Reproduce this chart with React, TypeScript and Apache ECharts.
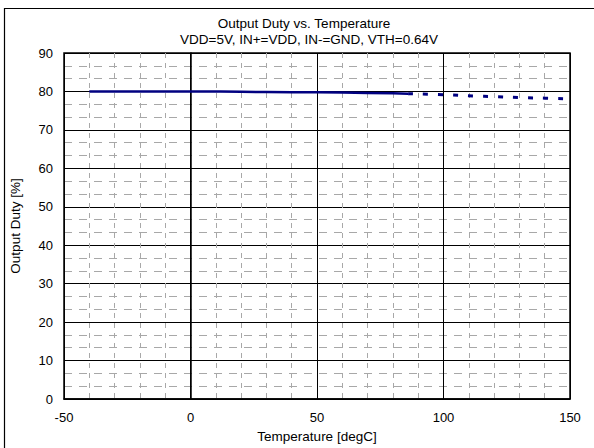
import React, { useEffect, useRef } from "react";
import * as echarts from "echarts";

const titleText = "Output Duty vs. Temperature";
const subtitleText = "VDD=5V, IN+=VDD, IN-=GND, VTH=0.64V";
const xName = "Temperature [degC]";
const yName = "Output Duty [%]";

const tempsSolid = [-40, -20, 0, 20, 40, 60, 80, 86];
const dutySolid = [80.0, 80.0, 80.0, 79.9, 79.8, 79.7, 79.5, 79.4];
const tempsDashed = [86, 100, 112, 120, 131, 140, 150];
const dutyDashed = [79.4, 79.15, 78.8, 78.65, 78.4, 78.25, 78.05];

const FONT = "'Liberation Sans', Arial, sans-serif";

export default function App() {
  const ref = useRef<HTMLDivElement>(null);
  useEffect(() => {
    document.body.style.margin = "0";
    const chart = echarts.init(ref.current!, null, { renderer: "svg" });
    const pair = (xs: number[], ys: number[]) => xs.map((x, i) => [x, ys[i]]);
    chart.setOption({
      animation: false,
      backgroundColor: "#fff",
      title: [
        {
          text: titleText,
          left: 299,
          top: 11,
          textAlign: "center",
          textStyle: { fontFamily: FONT, fontSize: 13.5, fontWeight: "normal", color: "#000" },
        },
        {
          text: subtitleText,
          left: 304,
          top: 27,
          textAlign: "center",
          textStyle: { fontFamily: FONT, fontSize: 13.5, fontWeight: "normal", color: "#000" },
        },
      ],
      graphic: [
        {
          type: "rect",
          shape: { x: 4.5, y: 8.5, width: 700, height: 600 },
          style: { fill: "none", stroke: "#000", lineWidth: 1.2 },
          silent: true,
          z: -1,
        },
      ],
      grid: {
        left: 60,
        right: 24,
        top: 53,
        bottom: 47,
        show: true,
        borderColor: "#000",
        borderWidth: 1.5,
        backgroundColor: "transparent",
      },
      xAxis: {
        type: "value",
        min: -50,
        max: 150,
        interval: 50,
        name: xName,
        nameLocation: "middle",
        nameGap: 30,
        nameTextStyle: { fontFamily: FONT, fontSize: 13.5, color: "#000" },
        axisLine: { show: true, onZero: false, lineStyle: { color: "#000", width: 1.5 } },
        axisTick: { show: false },
        axisLabel: { fontFamily: FONT, fontSize: 13, color: "#000", margin: 12 },
        splitLine: { show: true, lineStyle: { color: "#000", width: 1 } },
        minorTick: { show: false, splitNumber: 5 },
        minorSplitLine: { show: true, lineStyle: { color: "#a8a8a8", width: 1, type: [5, 5] } },
      },
      yAxis: {
        type: "value",
        min: 0,
        max: 90,
        interval: 10,
        name: yName,
        nameLocation: "middle",
        nameGap: 42,
        nameTextStyle: { fontFamily: FONT, fontSize: 13.5, color: "#000" },
        axisLine: { show: true, lineStyle: { color: "#000", width: 1.5 } },
        axisTick: { show: false },
        axisLabel: { fontFamily: FONT, fontSize: 13, color: "#000", margin: 11 },
        splitLine: { show: true, lineStyle: { color: "#000", width: 1 } },
        minorTick: { show: false, splitNumber: 3 },
        minorSplitLine: { show: true, lineStyle: { color: "#a8a8a8", width: 1, type: [8, 7] } },
      },
      series: [
        {
          type: "line",
          data: pair(tempsSolid, dutySolid),
          showSymbol: false,
          smooth: true,
          lineStyle: { color: "#000080", width: 2.5 },
          z: 5,
        },
        {
          type: "line",
          data: pair(tempsDashed, dutyDashed),
          showSymbol: false,
          smooth: true,
          lineStyle: { color: "#000080", width: 3, type: [5, 10] },
          z: 5,
        },
      ],
    });
    return () => chart.dispose();
  }, []);
  return <div ref={ref} style={{ width: 594, height: 448 }} />;
}
